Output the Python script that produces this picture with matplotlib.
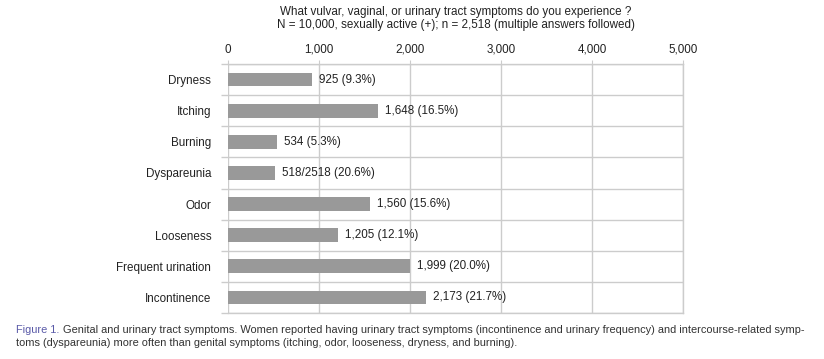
import matplotlib
matplotlib.use("Agg")
import matplotlib.pyplot as plt
import numpy as np

categories = ["Dryness", "Itching", "Burning", "Dyspareunia", "Odor",
              "Looseness", "Frequent urination", "Incontinence"]
values = [925, 1648, 534, 518, 1560, 1205, 1999, 2173]
value_labels = ["925 (9.3%)", "1,648 (16.5%)", "534 (5.3%)", "518/2518 (20.6%)",
                "1,560 (15.6%)", "1,205 (12.1%)", "1,999 (20.0%)", "2,173 (21.7%)"]
xticks = [0, 1000, 2000, 3000, 4000, 5000]
xtick_labels = ["0", "1,000", "2,000", "3,000", "4,000", "5,000"]
title_lines = ["What vulvar, vaginal, or urinary tract symptoms do you experience ?",
               "N = 10,000, sexually active (+); n = 2,518 (multiple answers followed)"]
caption_head = "Figure 1."
caption_line1 = ("Genital and urinary tract symptoms. Women reported having urinary tract symptoms "
                 "(incontinence and urinary frequency) and intercourse-related symp-")
caption_line2 = ("toms (dyspareunia) more often than genital symptoms (itching, odor, looseness, "
                 "dryness, and burning).")

plt.rcParams['font.family'] = ['Liberation Sans', 'DejaVu Sans']
W, H = 824, 359
fig = plt.figure(figsize=(W / 100, H / 100), dpi=100)
ax = fig.add_axes([228 / W, (H - 313) / H, 455 / W, 249 / H])

grid_c = "#cccccc"
text_c = "#222222"
fs = 8.4

y = np.arange(len(categories))
ax.barh(y, values, height=0.44, color="#999999", zorder=3)
for yi, v, lab in zip(y, values, value_labels):
    ax.annotate(lab, (v, yi), xytext=(5, 0), textcoords="offset points",
                va="center", ha="left", fontsize=fs, color=text_c, zorder=4)

ax.set_xlim(0, 5000)
ax.set_ylim(len(categories) - 0.5, -0.5)
ax.xaxis.tick_top()
ax.set_xticks(xticks)
ax.set_xticklabels(xtick_labels, fontsize=fs, color=text_c)
ax.tick_params(axis="x", length=3, color=grid_c, pad=3)
ax.set_yticks(y)
ax.set_yticklabels(categories, fontsize=fs, color=text_c)
ax.tick_params(axis="y", which="major", length=0, pad=12)
ax.set_yticks(np.arange(-0.5, len(categories)), minor=True)
ax.tick_params(axis="y", which="minor", length=5, color=grid_c, width=1)
ax.grid(axis="x", which="major", color=grid_c, linewidth=1, zorder=0)
ax.grid(axis="y", which="minor", color=grid_c, linewidth=1, zorder=0)
ax.set_axisbelow(True)
for s in ax.spines.values():
    s.set_color(grid_c)
    s.set_linewidth(1)
ax.spines["left"].set_visible(False)

cx = (228 + 683) / 2 / W
fig.text(cx, 1 - 12 / H, title_lines[0], ha="center", va="center", fontsize=fs, color=text_c)
fig.text(cx, 1 - 25 / H, title_lines[1], ha="center", va="center", fontsize=fs, color=text_c)

# caption
cap_family = ['Liberation Sans Narrow', 'Liberation Sans', 'DejaVu Sans']
cfs = 7.9
renderer = fig.canvas.get_renderer()
t_head = fig.text(16 / W, 1 - 330 / H, caption_head, ha="left", va="center",
                  fontsize=cfs, color="#5a5aa8", family=cap_family)
bb = t_head.get_window_extent(renderer)
t1 = fig.text((bb.x1 + 4) / W, 1 - 330 / H, caption_line1, ha="left", va="center",
              fontsize=cfs, color="#333333", family=cap_family)
t2 = fig.text(16 / W, 1 - 343 / H, caption_line2, ha="left", va="center",
              fontsize=cfs, color="#333333", family=cap_family)

fig.savefig("out.png", dpi=100)
